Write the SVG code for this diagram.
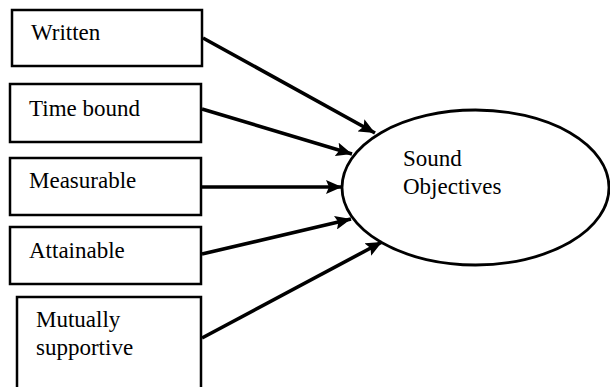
<svg xmlns="http://www.w3.org/2000/svg" width="610" height="387" viewBox="0 0 610 387">
  <style>
    .box { fill: #fff; stroke: #000; stroke-width: 2.5; }
    .oval { fill: #fff; stroke: #000; stroke-width: 2.8; }
    .lbl { font-family: 'Liberation Serif', 'Times New Roman', 'DejaVu Serif', serif; font-size: 23px; fill: #000; }
    .edge { stroke: #000; stroke-width: 3.6; fill: none; marker-end: url(#head); }
  </style>
  <defs>
    <marker id="head" markerUnits="userSpaceOnUse" markerWidth="18" markerHeight="14" refX="16" refY="7" orient="auto">
      <path d="M0,0 L16,7 L0,14 L3,7 Z" fill="#000"/>
    </marker>
  </defs>

  <rect width="610" height="387" fill="#fff"/>

  <g id="node-written">
    <rect class="box" x="12" y="10" width="190" height="56"/>
    <text class="lbl" x="31" y="40">Written</text>
  </g>
  <g id="node-time-bound">
    <rect class="box" x="10" y="84" width="191" height="58"/>
    <text class="lbl" x="29" y="116">Time bound</text>
  </g>
  <g id="node-measurable">
    <rect class="box" x="10" y="158" width="191" height="57"/>
    <text class="lbl" x="29" y="188">Measurable</text>
  </g>
  <g id="node-attainable">
    <rect class="box" x="10" y="227" width="191" height="57"/>
    <text class="lbl" x="29" y="258">Attainable</text>
  </g>
  <g id="node-mutually-supportive">
    <path class="box" d="M17,392 L17,297 L201,297 L201,392"/>
    <text class="lbl" x="36" y="327">Mutually</text>
    <text class="lbl" x="36" y="355">supportive</text>
  </g>

  <g id="node-sound-objectives">
    <ellipse class="oval" cx="475.5" cy="187.5" rx="133.5" ry="77.5"/>
    <text class="lbl" x="403" y="166">Sound</text>
    <text class="lbl" x="403" y="194">Objectives</text>
  </g>

  <g id="connectors">
    <line class="edge" x1="203" y1="38" x2="375" y2="133"/>
    <line class="edge" x1="202" y1="109" x2="352" y2="154"/>
    <line class="edge" x1="202" y1="187" x2="342" y2="187"/>
    <line class="edge" x1="202" y1="254" x2="351" y2="219"/>
    <line class="edge" x1="202" y1="338" x2="382" y2="242"/>
  </g>
</svg>
